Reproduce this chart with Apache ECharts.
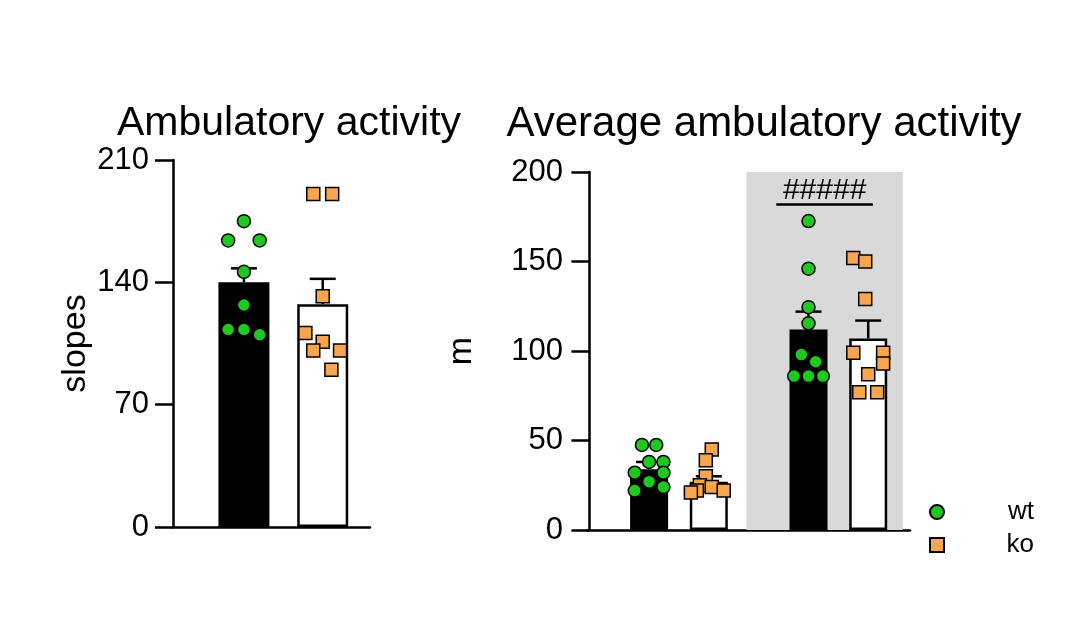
<!DOCTYPE html>
<html><head><meta charset="utf-8">
<script src="https://cdn.jsdelivr.net/npm/echarts@6/dist/echarts.min.js"></script>
<style>html,body{margin:0;background:#fff}#c{width:1072px;height:622px}</style>
</head><body><div id="c"></div>
<script>
// Left panel: slopes
const leftPos = [1, 2];
const leftMeans = [140, 127.5];
const leftErr = [148, 142];
const leftWt = [175, 164, 164, 146, 127, 113, 113, 110];
const leftWtJit = [0, -0.2, 0.2, 0, 0, -0.2, 0, 0.2];
const leftKo = [190.5, 190.5, 132, 111, 106, 101, 101, 90];
const leftKoJit = [-0.12, 0.12, 0, -0.22, 0, -0.12, 0.22, 0.11];
// Right panel: m
const rightPos = [1, 2, 3.67, 4.67];
const rightMeans = [34, 27, 112, 107];
const rightErr = [38, 30, 122, 117];
const wtLow = [47.5, 47.5, 38, 38, 32, 32, 27, 24, 22];
const wtLowJit = [-0.12, 0.12, 0, 0.24, -0.24, 0.24, 0, 0.24, -0.24];
const koLow = [45, 39, 30, 25, 24, 22, 22, 21];
const koLowJit = [0.05, -0.05, -0.05, -0.15, 0.05, 0.25, -0.2, -0.3];
const wtHigh = [172.6, 146, 124.5, 115.5, 98, 94, 86, 86, 86];
const wtHighJit = [0, 0, 0, 0, -0.12, 0.12, -0.24, 0, 0.24];
const koHigh = [152, 150, 129, 99, 99, 93, 87, 77, 77];
const koHighJit = [-0.25, -0.05, -0.05, -0.25, 0.25, 0.25, 0, -0.15, 0.15];
const shadeRange = [2.63, 5.25];
const hashRange = [3.13, 4.75];
const hashLevel = 182;
const hashText = '#####';

const F = 'Liberation Sans, Arial, sans-serif';
const green = '#1ec81e', orange = '#f7a64f';
function pts(base, vals, jit){ return vals.map((v,i)=>[base + jit[i], v]); }
function errSeries(xi, yi, pos, means, errs){
  return {type:'custom', xAxisIndex:xi, yAxisIndex:yi, z:3,
    data: pos.map((p,i)=>[p, means[i], errs[i]]),
    renderItem:(params, api)=>{
      const a = api.coord([api.value(0), api.value(1)]);
      const b = api.coord([api.value(0), api.value(2)]);
      return {type:'group', children:[
        {type:'line', shape:{x1:a[0],y1:a[1],x2:b[0],y2:b[1]}, style:{stroke:'#000',lineWidth:2.5}},
        {type:'line', shape:{x1:b[0]-13,y1:b[1],x2:b[0]+13,y2:b[1]}, style:{stroke:'#000',lineWidth:2.5}}]};
    }};
}
function barSeries(xi, yi, pos, means, colors){
  return {type:'bar', xAxisIndex:xi, yAxisIndex:yi, barWidth:xi===0?51:38, z:2,
    data: pos.map((p,i)=>({value:[p, means[i]], itemStyle:{color:colors[i], borderColor:'#000', borderWidth:2.5}}))};
}
function scat(xi, yi, name, data, sym){
  return {type:'scatter', name, xAxisIndex:xi, yAxisIndex:yi, z:4, symbol:sym, symbolSize:13,
    itemStyle:{color: sym==='circle'?green:orange, borderColor:'#000', borderWidth:1.5, opacity:1}, data};
}
const axisLine = {show:true, lineStyle:{color:'#000', width:2.5}};
const tick = {show:true, length:18, lineStyle:{width:2.5,color:'#000'}};
const tickLabel = {fontFamily:F, fontSize:31, color:'#000', margin:24};
const opt = {
  animation:false,
  title:[
    {text:'Ambulatory activity', left:284, top:98, textAlign:'center', textStyle:{fontFamily:F, fontSize:41, fontWeight:'normal', color:'#000'}},
    {text:'Average ambulatory activity', left:759, top:98, textAlign:'center', textStyle:{fontFamily:F, fontSize:42, fontWeight:'normal', color:'#000'}}
  ],
  legend:{orient:'vertical', left:924, top:494, itemWidth:14, itemHeight:14, itemGap:7,
    data:[{name:'wt', icon:'circle'},{name:'ko', icon:'rect'}],
    formatter:n=>'{a|'+n+'}',
    textStyle:{rich:{a:{fontFamily:F, fontSize:26, color:'#000', width:85, align:'right', lineHeight:16}}}},
  grid:[
    {left:173, top:160, width:197, height:367},
    {left:587, top:172, width:323, height:358}
  ],
  xAxis:[
    {type:'value', gridIndex:0, min:0.1, max:2.6, axisLine, axisTick:{show:false}, axisLabel:{show:false}, splitLine:{show:false}},
    {type:'value', gridIndex:1, min:-0.04, max:5.37, axisLine, axisTick:{show:false}, axisLabel:{show:false}, splitLine:{show:false}}
  ],
  yAxis:[
    {type:'value', gridIndex:0, min:0, max:210, interval:70, name:'slopes', nameLocation:'middle', nameGap:80,
      nameTextStyle:{fontFamily:F, fontSize:34, color:'#000'}, axisLine, axisTick:tick, axisLabel:tickLabel, splitLine:{show:false}},
    {type:'value', gridIndex:1, min:0, max:200, interval:50, name:'m', nameLocation:'middle', nameGap:108, nameRotate:90,
      nameTextStyle:{fontFamily:F, fontSize:34, color:'#000'}, axisLine, axisTick:tick, axisLabel:tickLabel, splitLine:{show:false}}
  ],
  series:[
    barSeries(0,0,leftPos,leftMeans,['#000','#fff']),
    errSeries(0,0,leftPos,leftMeans,leftErr),
    scat(0,0,'wt',pts(leftPos[0],leftWt,leftWtJit),'circle'),
    scat(0,0,'ko',pts(leftPos[1],leftKo,leftKoJit),'rect'),
    Object.assign(barSeries(1,1,rightPos,rightMeans,['#000','#fff','#000','#fff']), {
      markArea:{silent:true, itemStyle:{color:'#d9d9d9'}, data:[[{xAxis:shadeRange[0], yAxis:0},{xAxis:shadeRange[1], yAxis:208}]]},
      markLine:{silent:true, symbol:'none', lineStyle:{color:'#000', width:2.5, type:'solid'},
        label:{show:true, position:'middle', formatter:hashText, fontFamily:F, fontSize:30, color:'#000', distance:-2},
        data:[[{coord:[hashRange[0], hashLevel]},{coord:[hashRange[1], hashLevel]}]]}
    }),
    errSeries(1,1,rightPos,rightMeans,rightErr),
    scat(1,1,'wt',pts(rightPos[0],wtLow,wtLowJit).concat(pts(rightPos[2],wtHigh,wtHighJit)),'circle'),
    scat(1,1,'ko',pts(rightPos[1],koLow,koLowJit).concat(pts(rightPos[3],koHigh,koHighJit)),'rect')
  ]
};
echarts.init(document.getElementById('c')).setOption(opt);
</script></body></html>
